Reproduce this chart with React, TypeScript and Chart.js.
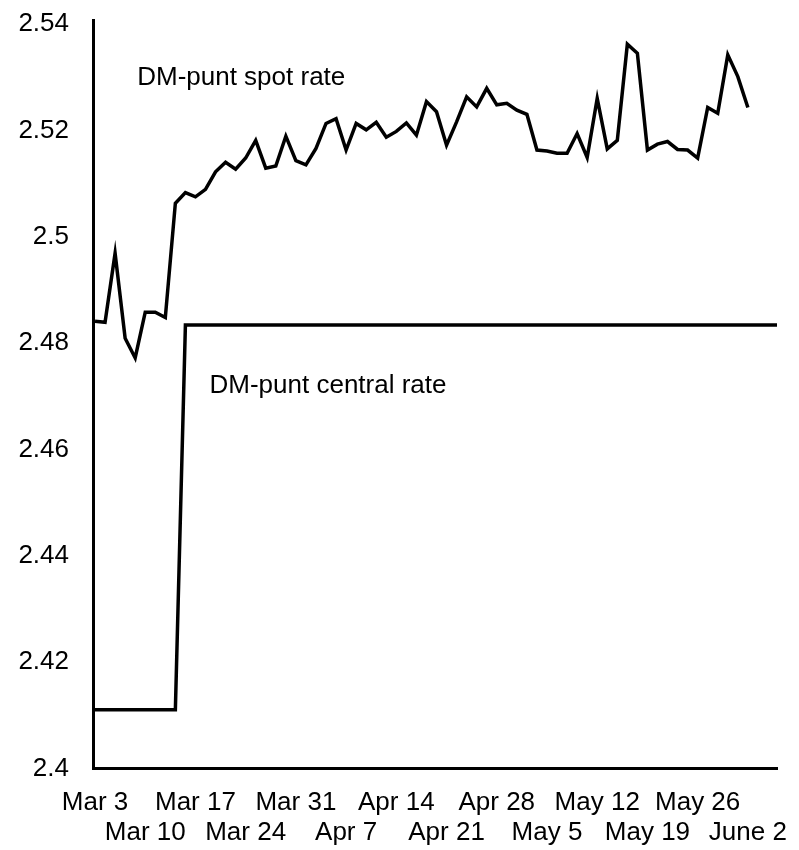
import React, { useEffect, useRef } from 'react';
import { Chart, registerables } from 'chart.js';

Chart.register(...registerables);

// Week labels (every 5th business day), staggered on two rows
const weekLabels = [
  'Mar 3', 'Mar 10', 'Mar 17', 'Mar 24', 'Mar 31', 'Apr 7', 'Apr 14',
  'Apr 21', 'Apr 28', 'May 5', 'May 12', 'May 19', 'May 26', 'June 2',
];
const businessDaysPerWeek = 5;

// Daily DM-punt spot rate (business days from Mar 3)
const spotRate = [
  2.4841, 2.4839, 2.4969, 2.4809, 2.4772, 2.4858, 2.4858, 2.4848, 2.5063, 2.5083,
  2.5075, 2.5089, 2.5122, 2.514, 2.5127, 2.5148, 2.5181, 2.5129, 2.5133, 2.5189,
  2.5143, 2.5135, 2.5166, 2.5213, 2.5222, 2.5163, 2.5213, 2.5201, 2.5215, 2.5187,
  2.5198, 2.5214, 2.5191, 2.5254, 2.5235, 2.5172, 2.5216, 2.5263, 2.5244, 2.5279,
  2.5248, 2.5251, 2.5238, 2.523, 2.5163, 2.5161, 2.5157, 2.5157, 2.5194, 2.5149,
  2.526, 2.5165, 2.5181, 2.5362, 2.5345, 2.5163, 2.5174, 2.5179, 2.5164, 2.5163,
  2.5148, 2.5243, 2.5232, 2.5342, 2.5301, 2.5243,
];

// DM-punt central rate (step on revaluation)
const centralDays = [0, 8, 9, 67.9];
const centralRate = [2.41105, 2.41105, 2.48338, 2.48338];

// Axis ranges and ticks
const xMin = -0.2;
const xMax = 67.9;
const yMin = 2.4;
const yMax = 2.54075;
const yTicks = [2.4, 2.42, 2.44, 2.46, 2.48, 2.5, 2.52, 2.54];

// Text annotations (in data coordinates)
const annotationTexts = ['DM-punt spot rate', 'DM-punt central rate'];
const annotationX = [4.2, 11.4];
const annotationY = [2.5285, 2.4707];

const FONT_FAMILY = '"Liberation Sans", Arial, Helvetica, sans-serif';
const FONT_SIZE = 26;

export default function App() {
  const canvasRef = useRef<HTMLCanvasElement | null>(null);

  useEffect(() => {
    document.body.style.margin = '0';
    const canvas = canvasRef.current;
    if (!canvas) return;

    const annotationPlugin = {
      id: 'textAnnotations',
      afterDatasetsDraw(chart: any) {
        const { ctx, scales } = chart;
        ctx.save();
        ctx.fillStyle = '#000';
        ctx.font = `${FONT_SIZE}px ${FONT_FAMILY}`;
        ctx.textAlign = 'left';
        ctx.textBaseline = 'alphabetic';
        annotationTexts.forEach((t, i) => {
          ctx.fillText(
            t,
            scales.x.getPixelForValue(annotationX[i]),
            scales.y.getPixelForValue(annotationY[i])
          );
        });
        ctx.restore();
      },
    };

    const chart = new Chart(canvas, {
      type: 'line',
      data: {
        datasets: [
          {
            label: 'DM-punt spot rate',
            data: spotRate.map((v, i) => ({ x: i, y: v })),
            borderColor: '#000',
            borderWidth: 3.5,
            pointRadius: 0,
            tension: 0,
            borderJoinStyle: 'miter',
            fill: false,
          },
          {
            label: 'DM-punt central rate',
            data: centralRate.map((v, i) => ({ x: centralDays[i], y: v })),
            borderColor: '#000',
            borderWidth: 3.5,
            pointRadius: 0,
            tension: 0,
            borderJoinStyle: 'miter',
            fill: false,
          },
        ],
      },
      options: {
        animation: false,
        responsive: false,
        maintainAspectRatio: false,
        layout: { padding: { top: 20, right: 22, left: 0, bottom: 0 } },
        plugins: {
          legend: { display: false },
          tooltip: { enabled: false },
        },
        scales: {
          x: {
            type: 'linear',
            min: xMin,
            max: xMax,
            grid: { display: false, drawTicks: false },
            border: { display: true, color: '#000', width: 3 },
            afterBuildTicks: (scale: any) => {
              scale.ticks = weekLabels.map((_, k) => ({ value: k * businessDaysPerWeek }));
            },
            afterFit: (scale: any) => {
              scale.height = 81.5;
              scale.paddingLeft = 0;
              scale.paddingRight = 0;
            },
            ticks: {
              autoSkip: false,
              maxRotation: 0,
              minRotation: 0,
              padding: 20,
              color: '#000',
              font: { family: FONT_FAMILY, size: FONT_SIZE, lineHeight: 1.14 },
              callback: (_v: any, index: number) => {
                const lbl = weekLabels[index] ?? '';
                return index % 2 === 0 ? [lbl, ''] : ['', lbl];
              },
            },
          },
          y: {
            type: 'linear',
            min: yMin,
            max: yMax,
            grid: { display: false, drawTicks: false },
            border: { display: true, color: '#000', width: 3 },
            afterBuildTicks: (scale: any) => {
              scale.ticks = yTicks.map((v) => ({ value: v }));
            },
            afterFit: (scale: any) => {
              scale.width = 93;
              scale.paddingTop = 0;
              scale.paddingBottom = 0;
            },
            ticks: {
              padding: 24,
              color: '#000',
              font: { family: FONT_FAMILY, size: FONT_SIZE },
              callback: (v: any) => String(Number(Number(v).toFixed(2))),
            },
          },
        },
      },
      plugins: [annotationPlugin],
    });

    return () => chart.destroy();
  }, []);

  return (
    <div style={{ width: 799, height: 850, background: '#fff' }}>
      <canvas ref={canvasRef} width={799} height={850} />
    </div>
  );
}
